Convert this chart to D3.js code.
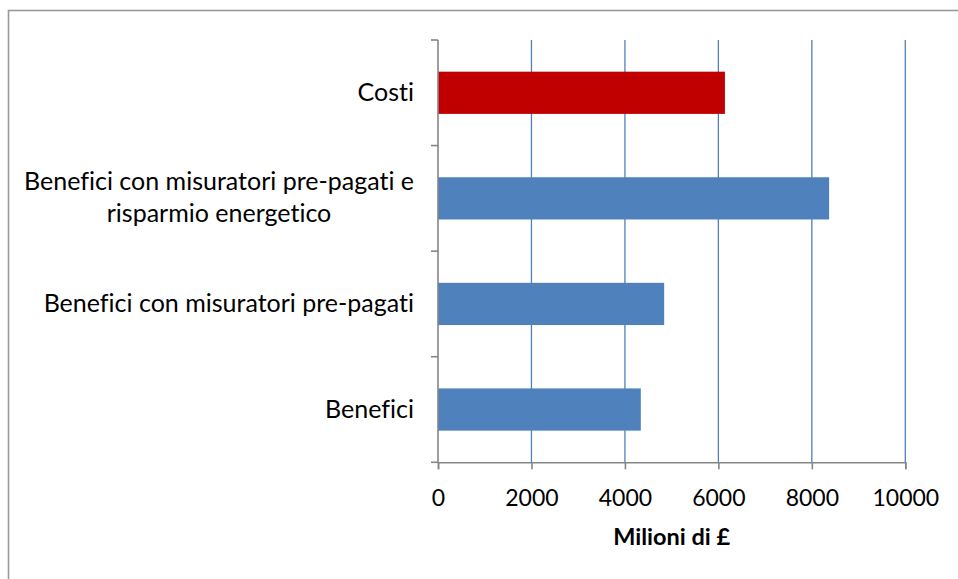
<!DOCTYPE html>
<html>
<head>
<meta charset="utf-8">
<script src="https://cdn.jsdelivr.net/npm/d3@7"></script>
<style>
  html, body { margin: 0; padding: 0; background: #fff; }
  svg { display: block; }
  text { font-family: Lato, "Open Sans", sans-serif; fill: #000; font-variant-ligatures: none; }
</style>
</head>
<body>
<svg id="chart" width="958" height="579"></svg>
<script>
// Categories listed top to bottom, each label split into its printed lines
const categories = ["Costi", "Benefici con misuratori pre-pagati e risparmio energetico", "Benefici con misuratori pre-pagati", "Benefici"];
const categoryLines = [["Costi"], ["Benefici con misuratori pre-pagati e", "risparmio energetico"], ["Benefici con misuratori pre-pagati"], ["Benefici"]];
const values = [6140, 8370, 4840, 4340];   // milioni di £
const barColors = ["#C00000", "#4F81BD", "#4F81BD", "#4F81BD"];
const xTicks = [0, 2000, 4000, 6000, 8000, 10000];
const xTitle = "Milioni di £";

const svg = d3.select("#chart");
const plot = { left: 438, right: 905.3, top: 40, bottom: 462.3 };

// chart frame
svg.append("rect")
  .attr("x", 8.5).attr("y", 10.5)
  .attr("width", 1000).attr("height", 1000)
  .attr("fill", "none").attr("stroke", "#9a9a9a").attr("stroke-width", 1.6);

const x = d3.scaleLinear().domain([0, 10000]).range([plot.left, plot.right]);
const y = d3.scaleBand().domain(categories).range([plot.top, plot.bottom]).paddingInner(0.6).paddingOuter(0.3);
const yEdges = d3.scaleBand().domain(categories).range([plot.top, plot.bottom]).padding(0);

// vertical gridlines
svg.append("g").selectAll("line")
  .data(xTicks.filter(t => t > 0))
  .join("line")
  .attr("x1", d => x(d)).attr("x2", d => x(d))
  .attr("y1", plot.top).attr("y2", plot.bottom)
  .attr("stroke", "#4F81BD").attr("stroke-width", 1.3);

// bars
svg.append("g").selectAll("rect")
  .data(categories)
  .join("rect")
  .attr("x", x(0))
  .attr("y", d => y(d))
  .attr("width", (d, i) => x(values[i]) - x(0))
  .attr("height", y.bandwidth())
  .attr("fill", (d, i) => barColors[i]);

const axisColor = "#868686";

// category axis: line plus ticks at band boundaries
const gY = svg.append("g");
gY.append("line")
  .attr("x1", plot.left).attr("x2", plot.left)
  .attr("y1", plot.top).attr("y2", plot.bottom)
  .attr("stroke", axisColor).attr("stroke-width", 1.6);
const boundaries = categories.map(c => yEdges(c)).concat([plot.bottom]);
gY.selectAll("line.tick")
  .data(boundaries)
  .join("line").attr("class", "tick")
  .attr("x1", plot.left - 7).attr("x2", plot.left)
  .attr("y1", d => d).attr("y2", d => d)
  .attr("stroke", axisColor).attr("stroke-width", 1.6);

// category labels: each block right aligned, its lines centred within it
const labelRight = 414;
const lineH = 32;
categoryLines.forEach((lines, i) => {
  const cy = yEdges(categories[i]) + yEdges.bandwidth() / 2;
  const g = svg.append("g");
  const texts = lines.map((ln, j) => g.append("text")
    .attr("font-size", 25)
    .attr("y", cy + (j - (lines.length - 1) / 2) * lineH + 8)
    .text(ln));
  const w = d3.max(texts, t => t.node().getComputedTextLength());
  texts.forEach(t => t.attr("text-anchor", "middle").attr("x", labelRight - w / 2));
});

// value axis
const gX = svg.append("g").attr("transform", `translate(0,${plot.bottom})`)
  .call(d3.axisBottom(x).tickValues(xTicks).tickSize(7).tickPadding(20).tickFormat(d3.format("d")));
gX.select(".domain").attr("stroke", axisColor).attr("stroke-width", 1.6);
gX.selectAll(".tick line").attr("stroke", axisColor).attr("stroke-width", 1.6);
gX.selectAll(".tick text").attr("font-size", 23).attr("font-family", "Lato, 'Open Sans', sans-serif").attr("fill", "#000");

svg.append("text")
  .attr("x", (plot.left + plot.right) / 2).attr("y", 545)
  .attr("text-anchor", "middle")
  .attr("font-size", 23.5).attr("font-weight", "bold")
  .text(xTitle);
</script>
</body>
</html>
